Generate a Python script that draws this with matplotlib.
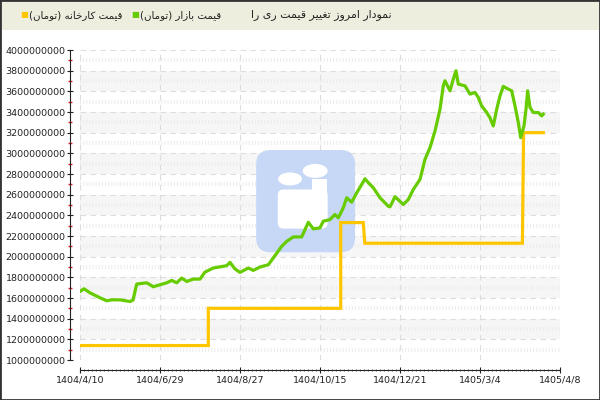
from matplotlib import pyplot as plt
from matplotlib.patches import Rectangle, FancyBboxPatch, Ellipse
from matplotlib.ticker import FuncFormatter, MultipleLocator
import numpy as np

# data (x = position between the date ticks)
date_labels = ['1404/4/10', '1404/6/29', '1404/8/27', '1404/10/15',
               '1404/12/21', '1405/3/4', '1405/4/8']

market_x = [0.0, 0.05, 0.125, 0.25, 0.334, 0.396, 0.5, 0.625, 0.6625, 0.709,
            0.834, 0.916, 1.0, 1.084, 1.146, 1.209, 1.271, 1.334, 1.416, 1.5,
            1.5625, 1.666, 1.834, 1.875, 1.9375, 2.0, 2.104, 2.166, 2.25, 2.354,
            2.416, 2.521, 2.584, 2.666, 2.771, 2.854, 2.916, 3.0, 3.041, 3.125,
            3.1875, 3.229, 3.291, 3.334, 3.396, 3.459, 3.521, 3.5625, 3.604, 3.666,
            3.75, 3.854, 3.875, 3.9375, 4.041, 4.104, 4.166, 4.25, 4.3125, 4.375,
            4.4375, 4.5, 4.541, 4.5625, 4.625, 4.666, 4.7, 4.729, 4.8125, 4.875,
            4.9375, 4.979, 5.021, 5.084, 5.125, 5.166, 5.209, 5.25, 5.291, 5.354,
            5.396, 5.4375, 5.479, 5.509, 5.55, 5.575, 5.596, 5.625, 5.666, 5.729,
            5.771, 5.791]
market_price = [1.663, 1.689, 1.650, 1.602, 1.573, 1.582, 1.582, 1.566, 1.58, 1.735,
                1.747, 1.709, 1.728, 1.747, 1.770, 1.747, 1.793, 1.760, 1.783, 1.783,
                1.851, 1.890, 1.913, 1.945, 1.881, 1.848, 1.890, 1.867, 1.900, 1.922,
                1.987, 2.100, 2.148, 2.191, 2.191, 2.333, 2.269, 2.279, 2.343, 2.359,
                2.408, 2.376, 2.473, 2.570, 2.527, 2.618, 2.699, 2.754, 2.716, 2.667,
                2.570, 2.488, 2.482, 2.580, 2.505, 2.553, 2.650, 2.748, 2.942, 3.055,
                3.216, 3.427, 3.653, 3.702, 3.605, 3.718, 3.799, 3.670, 3.653, 3.573,
                3.589, 3.541, 3.459, 3.395, 3.344, 3.265, 3.427, 3.556, 3.648, 3.621,
                3.605, 3.459, 3.298, 3.152, 3.265, 3.427, 3.605, 3.444, 3.395, 3.395,
                3.362, 3.379]
market_price = [v * 1e9 for v in market_price]

factory_x = [0.0, 1.604, 1.604, 3.259, 3.259, 3.541, 3.56, 5.53, 5.545, 5.791]
factory_price = [1.14e9, 1.14e9, 1.50e9, 1.50e9, 2.33e9, 2.33e9, 2.13e9, 2.13e9,
                 3.20e9, 3.20e9]

title_text = 'نمودار امروز تغییر قیمت ری را'
market_label = 'قیمت بازار (تومان)'
factory_label = 'قیمت کارخانه (تومان)'

# matplotlib has no arabic shaping, so do it by hand with presentation forms
FORMS = {
    'ا': ('\uFE8D', '\uFE8E', None, None),
    'ب': ('\uFE8F', '\uFE90', '\uFE91', '\uFE92'),
    'ت': ('\uFE95', '\uFE96', '\uFE97', '\uFE98'),
    'خ': ('\uFEA5', '\uFEA6', '\uFEA7', '\uFEA8'),
    'د': ('\uFEA9', '\uFEAA', None, None),
    'ر': ('\uFEAD', '\uFEAE', None, None),
    'ز': ('\uFEAF', '\uFEB0', None, None),
    'غ': ('\uFECD', '\uFECE', '\uFECF', '\uFED0'),
    'ق': ('\uFED5', '\uFED6', '\uFED7', '\uFED8'),
    'م': ('\uFEE1', '\uFEE2', '\uFEE3', '\uFEE4'),
    'ن': ('\uFEE5', '\uFEE6', '\uFEE7', '\uFEE8'),
    'ه': ('\uFEE9', '\uFEEA', '\uFEEB', '\uFEEC'),
    'و': ('\uFEED', '\uFEEE', None, None),
    '\u06CC': ('\uFBFC', '\uFBFD', '\uFBFE', '\uFBFF'),
    '\u06A9': ('\uFB8E', '\uFB8F', '\uFB90', '\uFB91'),
}


def shape(s):
    s = s.replace('\u064A', '\u06CC').replace('\u0643', '\u06A9')
    out = []
    for i, c in enumerate(s):
        if c not in FORMS:
            out.append(c)
            continue
        prev = s[i - 1] if i > 0 else ''
        nxt = s[i + 1] if i + 1 < len(s) else ''
        jp = prev in FORMS and FORMS[prev][2] is not None
        jn = nxt in FORMS and FORMS[c][2] is not None
        iso, fin, ini, med = FORMS[c]
        if jp and jn:
            out.append(med)
        elif jp:
            out.append(fin)
        elif jn:
            out.append(ini)
        else:
            out.append(iso)
    vis = ''.join(out)[::-1]
    return vis.translate(str.maketrans('()', ')('))


plt.rcParams['font.family'] = ['DejaVu Sans']

fig = plt.figure(figsize=(6, 4), dpi=100)
fig.patch.set_facecolor('white')

# header bar
fig.add_artist(Rectangle((0, 1 - 30 / 400), 1, 30 / 400, transform=fig.transFigure,
                         facecolor='#eeeedf', edgecolor='none', zorder=0))
fig.add_artist(Rectangle((0, 0), 1, 1, transform=fig.transFigure, fill=False,
                         edgecolor='#333333', lw=2, zorder=10))

ty = 1 - 15 / 400
fig.text(20 / 600, ty, '\u25A0', color='#ffc600', fontsize=6, va='center', ha='left')
fig.text(29 / 600, ty, shape(factory_label), fontsize=7.4, color='#222222',
         va='center', ha='left')
fig.text(131 / 600, ty, '\u25A0', color='#66cc00', fontsize=6, va='center', ha='left')
fig.text(140 / 600, ty, shape(market_label), fontsize=7.4, color='#222222',
         va='center', ha='left')
fig.text(251 / 600, ty, shape(title_text), fontsize=7.9, color='#222222',
         va='center', ha='left')

ax = fig.add_axes([80 / 600, 40 / 400, 480 / 600, 310 / 400])
ax.set_xlim(0, 6)
ax.set_ylim(1e9, 4e9)

# striped background
for i, lo in enumerate(np.arange(1e9, 4e9, 2e8)):
    if i % 2 == 1:
        ax.axhspan(lo, lo + 2e8, color='#f6f6f6', lw=0, zorder=0)
for lv in np.arange(1.1e9, 4e9, 2e8):
    ax.axhline(lv, color='#ececec', lw=3, ls=(0, (0.25, 0.5)), zorder=0.5)
for lv in np.arange(1e9, 4.01e9, 2e8):
    ax.axhline(lv, color='#dddddd', lw=0.8, ls=(0, (5, 4)), zorder=0.6)
for xv in range(7):
    ax.axvline(xv, color='#dddddd', lw=0.8, ls=(0, (5, 4)), zorder=0.6)

# faded logo
ax.add_patch(FancyBboxPatch((0.375, 0.36), 0.19, 0.305, transform=ax.transAxes,
                            boxstyle='round,pad=0.008,rounding_size=0.03',
                            mutation_aspect=480 / 310, facecolor='#c6d8f6',
                            edgecolor='none', zorder=1))
ax.add_patch(Ellipse((0.4375, 0.584), 0.05, 0.042, transform=ax.transAxes,
                     facecolor='white', edgecolor='none', zorder=1.1))
ax.add_patch(Ellipse((0.49, 0.61), 0.052, 0.045, transform=ax.transAxes,
                     facecolor='white', edgecolor='none', zorder=1.1))
ax.add_patch(FancyBboxPatch((0.414, 0.427), 0.1, 0.12, transform=ax.transAxes,
                            boxstyle='round,pad=0.002,rounding_size=0.012',
                            mutation_aspect=480 / 310, facecolor='white',
                            edgecolor='none', zorder=1.1))
ax.add_patch(Rectangle((0.484, 0.52), 0.03, 0.065, transform=ax.transAxes,
                       facecolor='white', edgecolor='none', zorder=1.1))

ax.plot(factory_x, factory_price, color='#ffc600', lw=2.3, zorder=3,
        solid_joinstyle='miter')
ax.plot(market_x, market_price, color='#66cc00', lw=2.3, zorder=4)

ax.set_yticks(np.arange(1e9, 4.01e9, 2e8))
ax.yaxis.set_minor_locator(MultipleLocator(1e8))
ax.yaxis.set_major_formatter(FuncFormatter(lambda v, p: '%d' % int(round(v))))
ax.set_xticks(range(7))
ax.set_xticklabels(date_labels)
ax.xaxis.set_minor_locator(MultipleLocator(0.05))

for s in ['top', 'right']:
    ax.spines[s].set_visible(False)
ax.spines['left'].set_position(('outward', 7.2))
ax.spines['bottom'].set_position(('outward', 7.2))
ax.spines['left'].set_color('#222222')
ax.spines['bottom'].set_color('#222222')

ax.tick_params(axis='y', which='major', direction='inout', length=4.5, width=0.8,
               labelsize=6.8, pad=1, colors='#222222')
ax.tick_params(axis='y', which='minor', direction='inout', length=3, width=1,
               color='#e02020')
ax.tick_params(axis='x', which='major', direction='inout', length=4.5, width=0.8,
               labelsize=6.8, pad=1.5, colors='#222222')
ax.tick_params(axis='x', which='minor', direction='inout', length=2, width=0.5,
               color='#444444')
ax.set_facecolor('white')

fig.savefig('out.png', dpi=100)
